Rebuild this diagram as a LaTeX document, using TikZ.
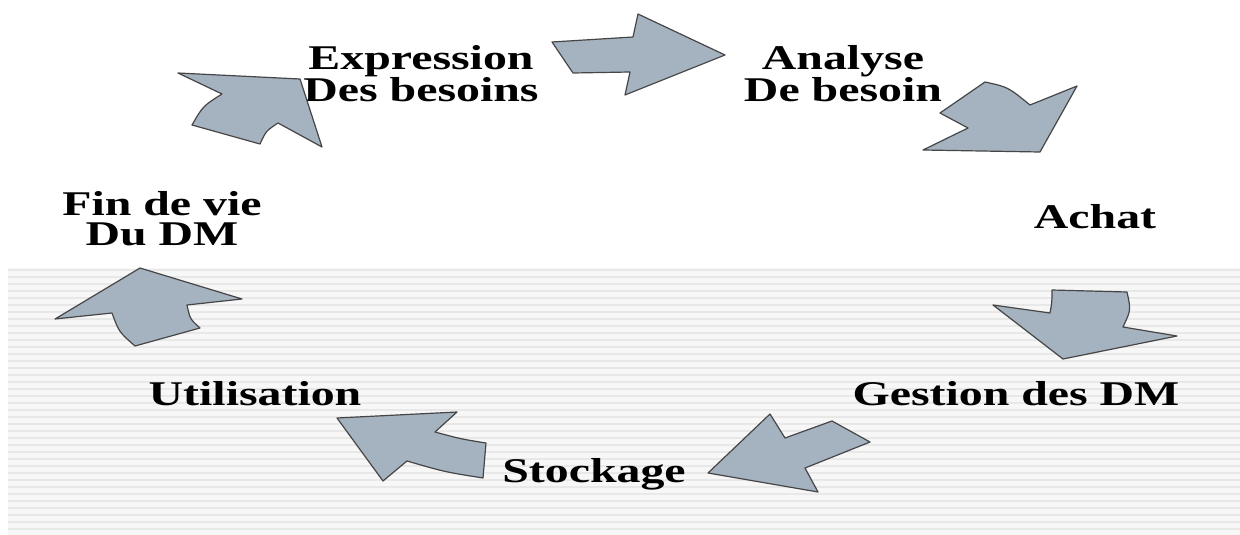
\documentclass[tikz,border=0pt]{standalone}
\usepackage{fontspec}
\newfontfamily\lblfont[FakeStretch=1.38]{Liberation Serif}
\usetikzlibrary{positioning}
\definecolor{arrowfill}{RGB}{165,178,192}
\definecolor{arrowline}{RGB}{70,70,70}
\definecolor{stripebg}{RGB}{247,247,247}
\definecolor{stripeline}{RGB}{232,232,232}
\tikzstyle{phase}      = [font=\lblfont\bfseries\fontsize{26}{22.5}\selectfont,
                          align=center, inner sep=0pt]
\tikzstyle{blockarrow} = [draw=arrowline, fill=arrowfill, line width=0.9pt, line join=round]

\begin{document}
\begin{tikzpicture}[x=0.75pt, y=-0.75pt]
  \useasboundingbox (0,0) rectangle (1240,535);
  % striped lower band
  \fill[stripebg] (8,268) rectangle (1240,535);
  \foreach \yy in {270,277,...,533}
    \draw[stripeline, line width=0.8pt] (8,\yy) -- (1240,\yy);

  \node (expression) [phase, anchor=base] at (421,102) {Expression\\Des besoins};
  \node (analyse)    [phase, anchor=base] at (843,102) {Analyse\\De besoin};
  \node (achat)      [phase, anchor=base] at (1095,228) {Achat};
  \node (gestion)    [phase, anchor=base] at (1016,405) {Gestion des DM};
  \node (stockage)   [phase, anchor=base] at (594,482) {Stockage};
  \node (utilisation)[phase, anchor=base] at (255,405) {Utilisation};
  \node (findevie)   [phase, anchor=base] at (162,245) {Fin de vie\\Du DM};

  % block arrows round the cycle
  \draw[blockarrow] (552,42) -- (633,37) -- (638,14) -- (725,55) -- (625,95) -- (630,72) -- (573,73) -- cycle;
  \draw[blockarrow] (940,113) -- (985,82) .. controls (1008,87) .. (1030,105) -- (1077,86) -- (1040,152)
    -- (923,150) -- (968,128) .. controls (954,121) .. cycle;
  \draw[blockarrow] (1052,290) -- (1127,292) .. controls (1131,310) .. (1123,327) -- (1177,336) -- (1063,359)
    -- (993,305) -- (1050,313) .. controls (1052,302) .. cycle;
  \draw[blockarrow] (832,421) -- (870,442) .. controls (837,455) .. (805,468) -- (818,492) -- (708,473)
    -- (770,414) -- (785,438) .. controls (808,430) .. cycle;
  \draw[blockarrow] (337,418) -- (457,412) -- (435,432) .. controls (461,439) .. (486,443) -- (483,478)
    .. controls (445,472) .. (407,461) -- (383,481) -- cycle;
  \draw[blockarrow] (55,319) -- (140,268) -- (242,299) -- (187,305) .. controls (190,319) .. (200,328)
    -- (135,346) .. controls (119,332) .. (112,313) -- cycle;
  \draw[blockarrow] (178,73) -- (300,79) -- (322,147) -- (278,123) .. controls (266,131) .. (260,144)
    -- (192,125) .. controls (203,106) .. (222,94) -- cycle;
\end{tikzpicture}
\end{document}
